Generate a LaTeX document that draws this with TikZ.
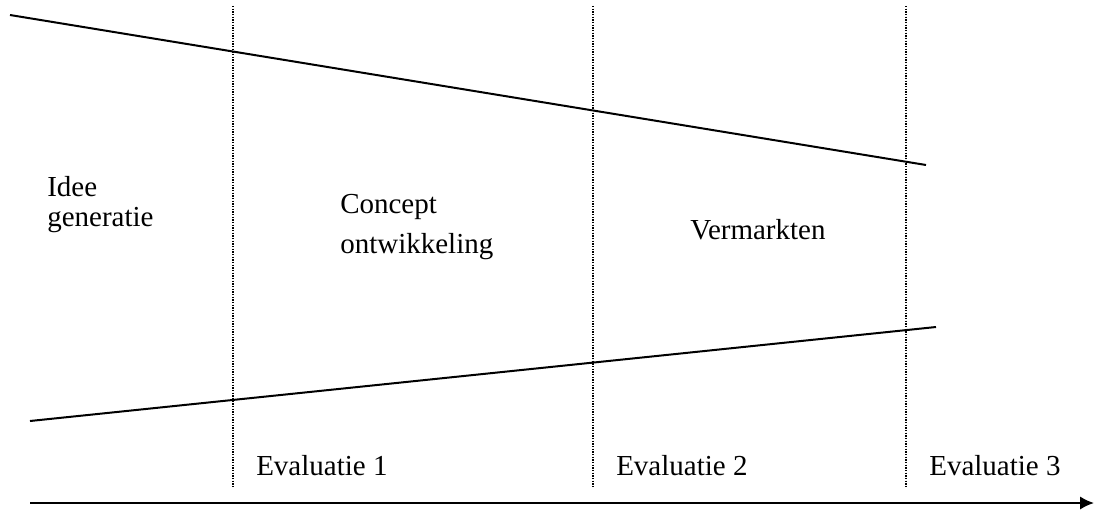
\documentclass[tikz,border=0pt]{standalone}
\usepackage{fontspec}
\setmainfont{Liberation Serif}
\usetikzlibrary{arrows.meta}
\begin{document}
\begin{tikzpicture}[x=0.75pt,y=-0.75pt,>={Latex[length=10.5pt,width=10pt]},
		phase/.style={font=\fontsize{21.75}{30}\selectfont, align=left, anchor=base west, inner sep=0pt},
		gate/.style={line width=1pt, dash pattern=on 1pt off 1pt},
		funnel/.style={line width=1.5pt}]
		\useasboundingbox (0,0) rectangle (1094,510);
		% funnel edges
		\coordinate (top-l) at (10,15);
		\coordinate (top-r) at (926,165);
		\coordinate (bot-l) at (30,421);
		\coordinate (bot-r) at (936,327);
		\draw[funnel] (top-l) -- (top-r);
		\draw[funnel] (bot-l) -- (bot-r);
		% evaluation gates
		\foreach \x/\n in {233/1,593/2,906/3} {
				\coordinate (g\n-t) at (\x,6);
				\coordinate (g\n-b) at (\x,488);
				\draw[gate] (g\n-t) -- (g\n-b);
				\node[phase] (eval\n) at (\x+23,475) {Evaluatie \n};
			}
		% phases (base = last line)
		\node[phase, font=\fontsize{21.75}{22.5}\selectfont] (idee) at (47,226) {Idee\\generatie};
		\node[phase] (concept) at (340,253) {Concept\\ontwikkeling};
		\node[phase] (markt) at (690,239) {Vermarkten};
		% time axis
		\coordinate (t-start) at (30,503);
		\coordinate (t-end) at (1094,503);
		\draw[->, line width=1.5pt] (t-start) -- (t-end);
	\end{tikzpicture}
\end{document}
